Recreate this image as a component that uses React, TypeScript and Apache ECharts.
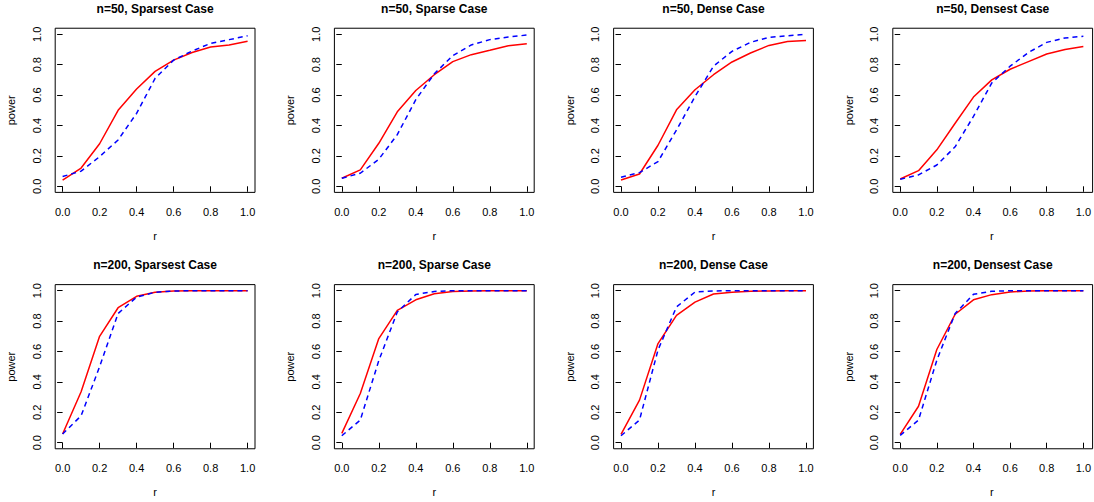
import React, { useEffect, useRef } from "react";
import * as echarts from "echarts";

const rValues = [0, 0.1, 0.2, 0.3, 0.4, 0.5, 0.6, 0.7, 0.8, 0.9, 1.0];

const panelTitles = [
  "n=50, Sparsest Case",
  "n=50, Sparse Case",
  "n=50, Dense Case",
  "n=50, Densest Case",
  "n=200, Sparsest Case",
  "n=200, Sparse Case",
  "n=200, Dense Case",
  "n=200, Densest Case",
];

// solid red curves
const redN50Sparsest = [0.04, 0.12, 0.28, 0.5, 0.64, 0.756, 0.83, 0.88, 0.916, 0.93, 0.954];
const redN50Sparse = [0.053, 0.108, 0.283, 0.49, 0.63, 0.734, 0.82, 0.866, 0.895, 0.925, 0.938];
const redN50Dense = [0.042, 0.081, 0.27, 0.503, 0.635, 0.734, 0.818, 0.877, 0.927, 0.952, 0.96];
const redN50Densest = [0.048, 0.103, 0.24, 0.415, 0.587, 0.7, 0.77, 0.82, 0.87, 0.9, 0.92];
const redN200Sparsest = [0.057, 0.335, 0.7, 0.888, 0.963, 0.99, 0.998, 0.999, 1.0, 1.0, 1.0];
const redN200Sparse = [0.061, 0.324, 0.685, 0.87, 0.94, 0.98, 0.995, 0.998, 1.0, 1.0, 1.0];
const redN200Dense = [0.055, 0.28, 0.652, 0.838, 0.925, 0.978, 0.99, 0.996, 0.998, 1.0, 1.0];
const redN200Densest = [0.055, 0.24, 0.613, 0.845, 0.94, 0.974, 0.991, 0.998, 1.0, 1.0, 1.0];

// dashed blue curves
const blueN50Sparsest = [0.064, 0.1, 0.195, 0.305, 0.48, 0.71, 0.83, 0.89, 0.94, 0.965, 0.99];
const blueN50Sparse = [0.053, 0.086, 0.178, 0.34, 0.57, 0.74, 0.86, 0.93, 0.965, 0.982, 0.995];
const blueN50Dense = [0.06, 0.09, 0.163, 0.37, 0.59, 0.79, 0.888, 0.947, 0.98, 0.99, 1.0];
const blueN50Densest = [0.046, 0.075, 0.14, 0.26, 0.46, 0.68, 0.79, 0.88, 0.947, 0.976, 0.987];
const blueN200Sparsest = [0.057, 0.177, 0.5, 0.85, 0.958, 0.99, 0.998, 1.0, 1.0, 1.0, 1.0];
const blueN200Sparse = [0.046, 0.149, 0.54, 0.86, 0.975, 0.995, 1.0, 1.0, 1.0, 1.0, 1.0];
const blueN200Dense = [0.046, 0.149, 0.61, 0.893, 0.991, 0.998, 1.0, 1.0, 1.0, 1.0, 1.0];
const blueN200Densest = [0.048, 0.149, 0.543, 0.85, 0.976, 0.996, 1.0, 1.0, 1.0, 1.0, 1.0];

const redSeries = [
  redN50Sparsest, redN50Sparse, redN50Dense, redN50Densest,
  redN200Sparsest, redN200Sparse, redN200Dense, redN200Densest,
];
const blueSeries = [
  blueN50Sparsest, blueN50Sparse, blueN50Dense, blueN50Densest,
  blueN200Sparsest, blueN200Sparse, blueN200Dense, blueN200Densest,
];

const FONT = "'Liberation Sans', Arial, Helvetica, sans-serif";

export default function App() {
  const ref = useRef<HTMLDivElement>(null);

  useEffect(() => {
    document.body.style.margin = "0";
    if (!ref.current) return;
    const chart = echarts.init(ref.current, null, { renderer: "svg" });

    const colX0 = [62.6, 341.8, 621.0, 900.2];
    const rowY0 = [34.3, 290.7];
    const innerW = 185;
    const innerH = 152;
    const padX = 0.04 * innerW;
    const padY = 0.04 * innerH;

    const grids: any[] = [];
    const xAxes: any[] = [];
    const yAxes: any[] = [];
    const series: any[] = [];
    const titles: any[] = [];

    for (let i = 0; i < 8; i++) {
      const col = i % 4;
      const row = Math.floor(i / 4);
      const x0 = colX0[col];
      const y0 = rowY0[row];
      grids.push({ left: x0, top: y0, width: innerW, height: innerH, show: false });
      xAxes.push({
        gridIndex: i,
        type: "value",
        min: 0,
        max: 1,
        interval: 0.2,
        offset: padY,
        axisLine: { show: false },
        axisTick: { show: true, length: 5.5, lineStyle: { color: "#000", width: 1 } },
        splitLine: { show: false },
        axisLabel: {
          fontSize: 11,
          color: "#000",
          fontFamily: FONT,
          margin: 14,
          formatter: (v: number) => v.toFixed(1),
        },
        name: "r",
        nameLocation: "middle",
        nameGap: 38,
        nameTextStyle: { fontSize: 11, color: "#000", fontFamily: FONT },
      });
      yAxes.push({
        gridIndex: i,
        type: "value",
        min: 0,
        max: 1,
        interval: 0.2,
        offset: padX,
        axisLine: { show: false },
        axisTick: { show: true, length: 5.5, lineStyle: { color: "#000", width: 1 } },
        splitLine: { show: false },
        axisLabel: {
          fontSize: 11,
          color: "#000",
          fontFamily: FONT,
          rotate: 90,
          margin: 13,
          formatter: (v: number) => v.toFixed(1),
        },
        name: "power",
        nameLocation: "middle",
        nameRotate: 90,
        nameGap: 38.5,
        nameTextStyle: { fontSize: 11, color: "#000", fontFamily: FONT },
      });
      series.push({
        type: "line",
        xAxisIndex: i,
        yAxisIndex: i,
        data: rValues.map((r, k) => [r, redSeries[i][k]]),
        symbol: "none",
        lineStyle: { color: "#FF0000", width: 1.5 },
        z: 2,
      });
      series.push({
        type: "line",
        xAxisIndex: i,
        yAxisIndex: i,
        data: rValues.map((r, k) => [r, blueSeries[i][k]]),
        symbol: "none",
        lineStyle: { color: "#0000FF", width: 1.5, type: [5, 4] },
        z: 3,
      });
      titles.push({
        text: panelTitles[i],
        left: x0 + innerW / 2,
        top: row === 0 ? 3 : 258.7,
        textAlign: "center",
        padding: 0,
        textStyle: { fontSize: 12, fontWeight: "bold", color: "#000", fontFamily: FONT },
      });
    }

    for (let i = 0; i < 8; i++) {
      const col = i % 4;
      const row = Math.floor(i / 4);
      const x0 = colX0[col];
      const y0 = rowY0[row];
      grids.push({
        left: x0 - padX,
        top: y0 - padY,
        width: innerW + 2 * padX,
        height: innerH + 2 * padY,
        show: true,
        borderColor: "#000",
        borderWidth: 1,
        backgroundColor: "transparent",
      });
      xAxes.push({ gridIndex: 8 + i, type: "value", min: 0, max: 1, show: false });
      yAxes.push({ gridIndex: 8 + i, type: "value", min: 0, max: 1, show: false });
    }

    chart.setOption({
      animation: false,
      backgroundColor: "#fff",
      textStyle: { fontFamily: FONT },
      title: titles,
      grid: grids,
      xAxis: xAxes,
      yAxis: yAxes,
      series,
    });

    return () => chart.dispose();
  }, []);

  return <div ref={ref} style={{ width: 1094, height: 502 }} />;
}
